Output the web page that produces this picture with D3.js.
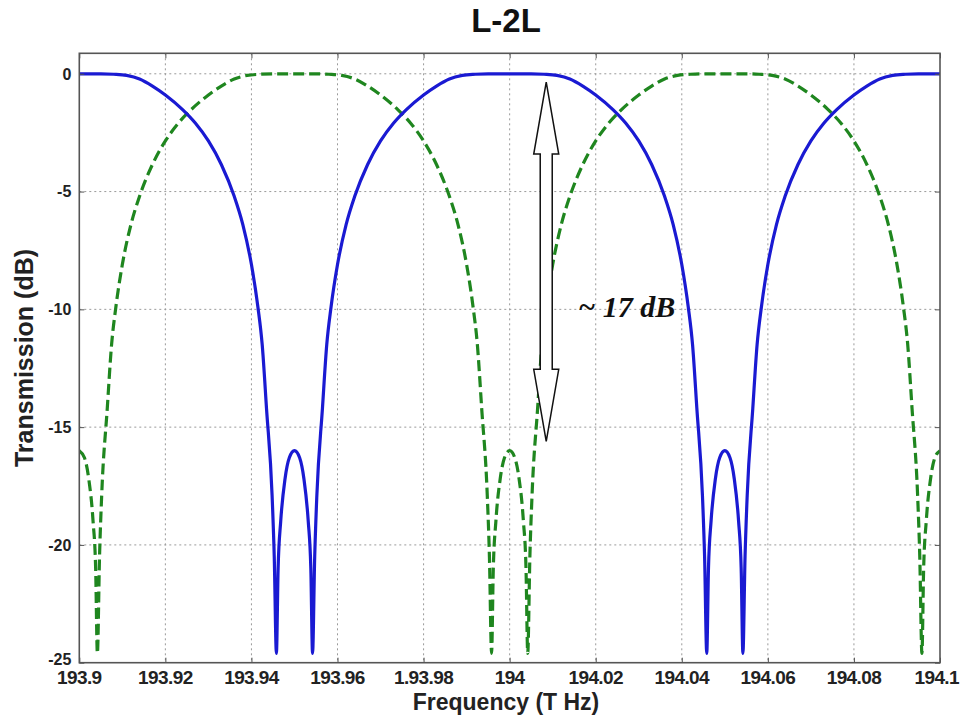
<!DOCTYPE html>
<html>
<head>
<meta charset="utf-8">
<script src="https://cdn.jsdelivr.net/npm/d3@7"></script>
<style>
  html, body { margin: 0; padding: 0; background: #fff; }
  svg { display: block; }
</style>
</head>
<body>
<svg id="chart" width="962" height="719"></svg>
<script>
// Transmission of the two interleaved outputs (frequency in THz, transmission in dB)
const solidSeries = [
  [193.9000, 0], [193.9050, 0], [193.9080, -0.02], [193.9110, -0.07], [193.9140, -0.22],
  [193.9170, -0.52], [193.9200, -0.90], [193.9240, -1.52], [193.9270, -2.10], [193.9300, -2.85],
  [193.9330, -3.85], [193.9360, -5.20], [193.9380, -6.40], [193.9400, -8.10], [193.9415, -9.90],
  [193.9425, -11.5], [193.9435, -14.2], [193.9448, -17.9], [193.9453, -20.5], [193.9458, -24.6],
  [193.9462, -21.0], [193.9468, -19.0], [193.9478, -17.2], [193.9488, -16.3], [193.9500, -16.0],
  [193.9512, -16.3], [193.9522, -17.2], [193.9532, -19.0], [193.9538, -21.0], [193.9542, -24.6],
  [193.9547, -20.5], [193.9552, -17.9], [193.9565, -14.2], [193.9575, -11.5], [193.9585, -9.90],
  [193.9600, -8.10], [193.9620, -6.40], [193.9640, -5.20], [193.9670, -3.85], [193.9700, -2.85],
  [193.9730, -2.10], [193.9760, -1.52], [193.9800, -0.90], [193.9830, -0.52], [193.9860, -0.22],
  [193.9890, -0.07], [193.9920, -0.02], [193.9950, 0], [194.0000, 0],
  [194.0050, 0], [194.0080, -0.02], [194.0110, -0.07], [194.0140, -0.22],
  [194.0170, -0.52], [194.0200, -0.90], [194.0240, -1.52], [194.0270, -2.10], [194.0300, -2.85],
  [194.0330, -3.85], [194.0360, -5.20], [194.0380, -6.40], [194.0400, -8.10], [194.0415, -9.90],
  [194.0425, -11.5], [194.0435, -14.2], [194.0448, -17.9], [194.0453, -20.5], [194.0458, -24.6],
  [194.0462, -21.0], [194.0468, -19.0], [194.0478, -17.2], [194.0488, -16.3], [194.0500, -16.0],
  [194.0512, -16.3], [194.0522, -17.2], [194.0532, -19.0], [194.0538, -21.0], [194.0542, -24.6],
  [194.0547, -20.5], [194.0552, -17.9], [194.0565, -14.2], [194.0575, -11.5], [194.0585, -9.90],
  [194.0600, -8.10], [194.0620, -6.40], [194.0640, -5.20], [194.0670, -3.85], [194.0700, -2.85],
  [194.0730, -2.10], [194.0760, -1.52], [194.0800, -0.90], [194.0830, -0.52], [194.0860, -0.22],
  [194.0890, -0.07], [194.0920, -0.02], [194.0950, 0], [194.1000, 0]
];

const dashedSeries = [
  [193.9000, -16.0], [193.9012, -16.3], [193.9022, -17.2], [193.9032, -19.0], [193.9038, -21.0],
  [193.9042, -24.6], [193.9047, -20.5], [193.9052, -17.9], [193.9065, -14.2], [193.9075, -11.5],
  [193.9085, -9.90], [193.9100, -8.10], [193.9120, -6.40], [193.9140, -5.20], [193.9170, -3.85],
  [193.9200, -2.85], [193.9230, -2.10], [193.9260, -1.52], [193.9300, -0.90], [193.9330, -0.52],
  [193.9360, -0.22], [193.9390, -0.07], [193.9420, -0.02], [193.9450, 0], [193.9500, 0],
  [193.9550, 0], [193.9580, -0.02], [193.9610, -0.07], [193.9640, -0.22], [193.9670, -0.52],
  [193.9700, -0.90], [193.9740, -1.52], [193.9770, -2.10], [193.9800, -2.85], [193.9830, -3.85],
  [193.9860, -5.20], [193.9880, -6.40], [193.9900, -8.10], [193.9915, -9.90], [193.9925, -11.5],
  [193.9935, -14.2], [193.9948, -17.9], [193.9953, -20.5], [193.9958, -24.6], [193.9962, -21.0],
  [193.9968, -19.0], [193.9978, -17.2], [193.9988, -16.3], [194.0000, -16.0],
  [194.0012, -16.3], [194.0022, -17.2], [194.0032, -19.0], [194.0038, -21.0],
  [194.0042, -24.6], [194.0047, -20.5], [194.0052, -17.9], [194.0065, -14.2], [194.0075, -11.5],
  [194.0085, -9.90], [194.0100, -8.10], [194.0120, -6.40], [194.0140, -5.20], [194.0170, -3.85],
  [194.0200, -2.85], [194.0230, -2.10], [194.0260, -1.52], [194.0300, -0.90], [194.0330, -0.52],
  [194.0360, -0.22], [194.0390, -0.07], [194.0420, -0.02], [194.0450, 0], [194.0500, 0],
  [194.0550, 0], [194.0580, -0.02], [194.0610, -0.07], [194.0640, -0.22], [194.0670, -0.52],
  [194.0700, -0.90], [194.0740, -1.52], [194.0770, -2.10], [194.0800, -2.85], [194.0830, -3.85],
  [194.0860, -5.20], [194.0880, -6.40], [194.0900, -8.10], [194.0915, -9.90], [194.0925, -11.5],
  [194.0935, -14.2], [194.0948, -17.9], [194.0953, -20.5], [194.0958, -24.6], [194.0962, -21.0],
  [194.0968, -19.0], [194.0978, -17.2], [194.0988, -16.3], [194.1000, -16.0]
];

// Axis ticks and their printed labels
const xTicks = [193.9, 193.92, 193.94, 193.96, 193.98, 194.0, 194.02, 194.04, 194.06, 194.08, 194.1];
const xTickLabels = ["193.9", "193.92", "193.94", "193.96", "1.93.98", "194", "194.02", "194.04", "194.06", "194.08", "194.1"];
const yTicks = [0, -5, -10, -15, -20, -25];
const yTickLabels = ["0", "-5", "-10", "-15", "-20", "-25"];

// Extinction marker: from the passband top down to the dip level
const markerFreq = 194.0085;
const markerTopDb = -0.35;
const markerBottomDb = -15.6;
const markerLabel = "~ 17 dB";

const titleText = "L-2L";
const xTitle = "Frequency (T Hz)";
const yTitle = "Transmission (dB)";

const plot = { left: 79.3, right: 940, top: 53.3, bottom: 662.7 };
const width = 962;

const svg = d3.select("#chart");

const x = d3.scaleLinear().domain([193.9, 194.1]).range([plot.left, plot.right]);
const y = d3.scaleLinear().domain([-25, 0.87]).range([plot.bottom, plot.top]);

const sansBold = "'Liberation Sans', Arial, sans-serif";

// Dotted grid
const grid = svg.append("g").attr("class", "grid");
grid.selectAll("line.gx").data(xTicks.slice(1, -1)).join("line")
  .attr("x1", d => x(d)).attr("x2", d => x(d))
  .attr("y1", plot.top).attr("y2", plot.bottom)
  .attr("stroke", "#9a9a9a").attr("stroke-width", 1).attr("stroke-dasharray", "2,3");
grid.selectAll("line.gy").data(yTicks.slice(0, -1)).join("line")
  .attr("x1", plot.left).attr("x2", plot.right)
  .attr("y1", d => y(d)).attr("y2", d => y(d))
  .attr("stroke", "#9a9a9a").attr("stroke-width", 1).attr("stroke-dasharray", "2,3");

// Clip for the curves
svg.append("defs").append("clipPath").attr("id", "plotClip")
  .append("rect").attr("x", plot.left).attr("y", plot.top)
  .attr("width", plot.right - plot.left).attr("height", plot.bottom - plot.top);

const line = d3.line()
  .x(d => x(d[0]))
  .y(d => y(d[1]))
  .curve(d3.curveMonotoneX);

const curves = svg.append("g").attr("clip-path", "url(#plotClip)");
curves.append("path").datum(dashedSeries)
  .attr("d", line).attr("fill", "none")
  .attr("stroke", "#1f861f").attr("stroke-width", 3.2)
  .attr("stroke-dasharray", "11,5").attr("stroke-linejoin", "round");
curves.append("path").datum(solidSeries)
  .attr("d", line).attr("fill", "none")
  .attr("stroke", "#1a1ad2").attr("stroke-width", 3.2)
  .attr("stroke-linejoin", "round");

// Axes with inward ticks
const xAxisBottom = d3.axisBottom(x).tickValues(xTicks).tickSize(-5).tickFormat("");
const xAxisTop = d3.axisTop(x).tickValues(xTicks).tickSize(-5).tickFormat("");
const yAxisLeft = d3.axisLeft(y).tickValues(yTicks).tickSize(-5).tickFormat("");
const yAxisRight = d3.axisRight(y).tickValues(yTicks).tickSize(-5).tickFormat("");

function styleAxis(g) {
  g.selectAll("path.domain").remove();
  g.selectAll(".tick line").attr("stroke", "#555").attr("stroke-width", 1);
}
svg.append("g").attr("transform", `translate(0,${plot.bottom})`).call(xAxisBottom).call(styleAxis);
svg.append("g").attr("transform", `translate(0,${plot.top})`).call(xAxisTop).call(styleAxis);
svg.append("g").attr("transform", `translate(${plot.left},0)`).call(yAxisLeft).call(styleAxis);
svg.append("g").attr("transform", `translate(${plot.right},0)`).call(yAxisRight).call(styleAxis);

// Frame
svg.append("rect")
  .attr("x", plot.left).attr("y", plot.top)
  .attr("width", plot.right - plot.left).attr("height", plot.bottom - plot.top)
  .attr("fill", "none").attr("stroke", "#555").attr("stroke-width", 1.6);

// Tick labels (the last one is kept inside the page edge)
const xLabels = svg.append("g").selectAll("text").data(xTicks).join("text")
  .attr("y", plot.bottom + 21)
  .attr("font-family", sansBold).attr("font-weight", "bold").attr("font-size", 19)
  .attr("letter-spacing", "-0.6")
  .attr("fill", "#222")
  .text((d, i) => xTickLabels[i]);
xLabels.each(function (d) {
  const t = d3.select(this);
  const w = this.getComputedTextLength();
  let cx = x(d);
  if (cx + w / 2 > width - 3) cx = width - 3 - w / 2;
  t.attr("x", cx).attr("text-anchor", "middle");
});

svg.append("g").selectAll("text").data(yTicks).join("text")
  .attr("x", plot.left - 8)
  .attr("y", d => y(d) + (d === -25 ? -3 : 0))
  .attr("dy", "0.36em")
  .attr("text-anchor", "end")
  .attr("font-family", sansBold).attr("font-weight", "bold").attr("font-size", 16)
  .attr("fill", "#222")
  .text((d, i) => yTickLabels[i]);

// Titles
svg.append("text")
  .attr("x", 506).attr("y", 32)
  .attr("text-anchor", "middle")
  .attr("font-family", sansBold).attr("font-weight", "bold").attr("font-size", 33)
  .attr("fill", "#111")
  .text(titleText);

svg.append("text")
  .attr("x", 506).attr("y", 710)
  .attr("text-anchor", "middle")
  .attr("font-family", sansBold).attr("font-weight", "bold").attr("font-size", 23)
  .attr("fill", "#222")
  .text(xTitle);

svg.append("text")
  .attr("transform", `translate(33,${(plot.top + plot.bottom) / 2}) rotate(-90)`)
  .attr("text-anchor", "middle")
  .attr("font-family", sansBold).attr("font-weight", "bold").attr("font-size", 25)
  .attr("fill", "#222")
  .text(yTitle);

// Double-headed hollow arrow
const ax = x(markerFreq);
const yTop = y(markerTopDb);
const yBot = y(markerBottomDb);
const headLen = 72, headHalf = 12.5, shaftHalf = 6;
const arrowPts = [
  [ax, yTop],
  [ax + headHalf, yTop + headLen],
  [ax + shaftHalf, yTop + headLen],
  [ax + shaftHalf, yBot - headLen],
  [ax + headHalf, yBot - headLen],
  [ax, yBot],
  [ax - headHalf, yBot - headLen],
  [ax - shaftHalf, yBot - headLen],
  [ax - shaftHalf, yTop + headLen],
  [ax - headHalf, yTop + headLen]
];
svg.append("path")
  .attr("d", d3.line()(arrowPts) + "Z")
  .attr("fill", "#fff").attr("stroke", "#111").attr("stroke-width", 1.5)
  .attr("stroke-linejoin", "miter");

svg.append("text")
  .attr("x", ax + 32).attr("y", y(-10.33))
  .attr("font-family", "'Liberation Serif', 'Times New Roman', serif")
  .attr("font-weight", "bold").attr("font-style", "italic").attr("font-size", 30)
  .attr("fill", "#111")
  .text(markerLabel);
</script>
</body>
</html>
